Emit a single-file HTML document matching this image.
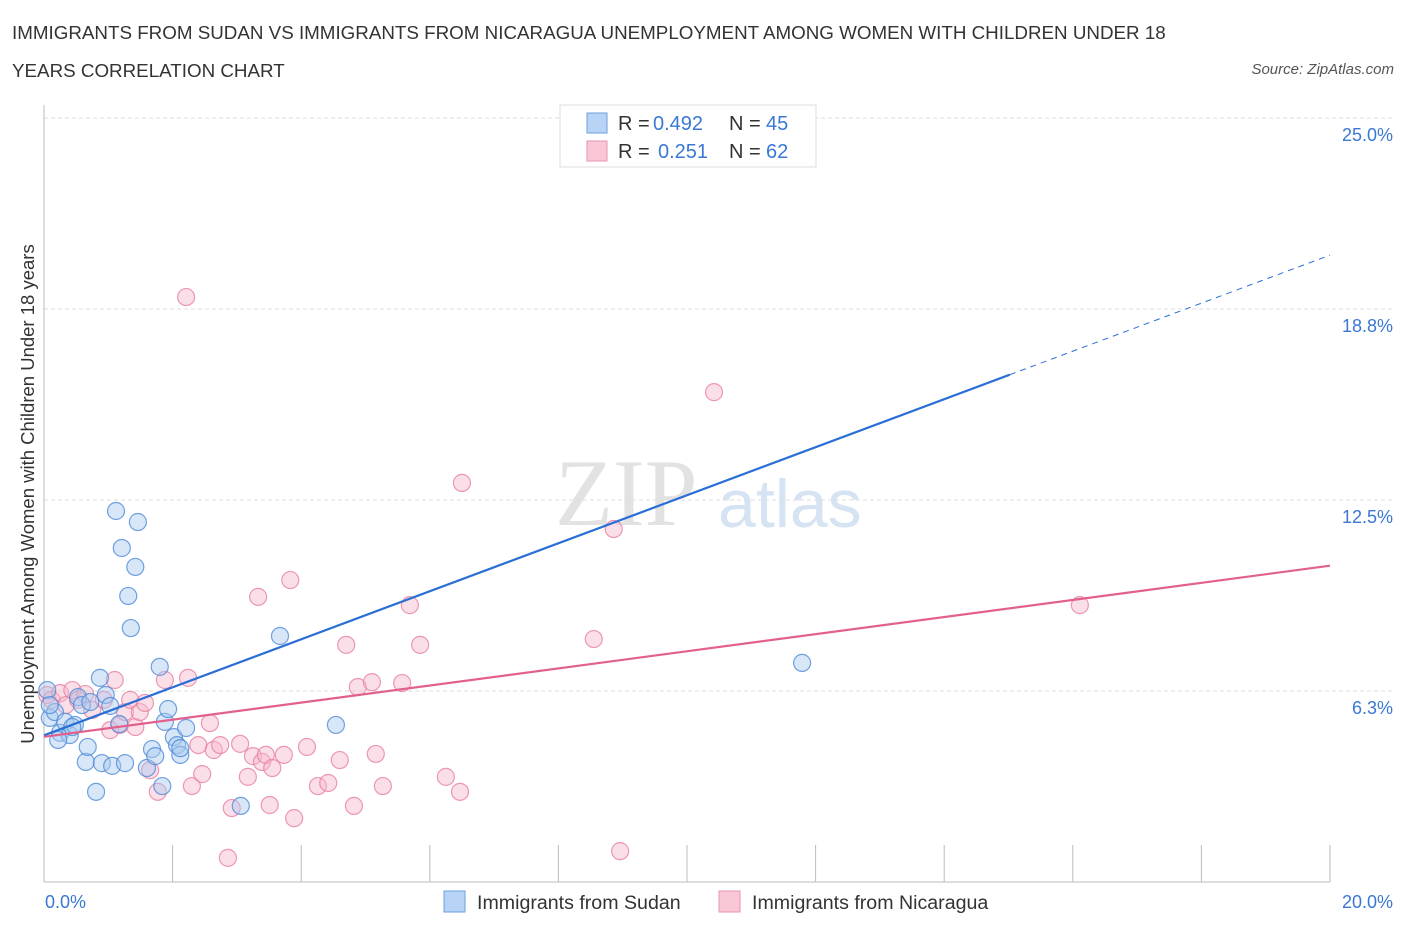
<!DOCTYPE html>
<html><head><meta charset="utf-8">
<style>
body{margin:0;background:#fff;font-family:"Liberation Sans",sans-serif;}
#wrap{position:relative;width:1406px;height:930px;overflow:hidden;}
.t{position:absolute;color:#333;font-size:18.8px;}
</style></head>
<body>
<div id="wrap">
<div class="t" style="left:12px;top:22px">IMMIGRANTS FROM SUDAN VS IMMIGRANTS FROM NICARAGUA UNEMPLOYMENT AMONG WOMEN WITH CHILDREN UNDER 18</div>
<div class="t" style="left:12px;top:60px">YEARS CORRELATION CHART</div>
<div class="t" style="right:12px;top:61px;font-size:15px;font-style:italic;color:#555">Source: ZipAtlas.com</div>
<svg id="chart" width="1406" height="930" style="position:absolute;left:0;top:0"></svg>
</div>
<script>
const xTickLabels=["0.0%","20.0%"];
const yTicks=[6.25,12.5,18.75,25];
const yTickLabels=["6.3%","12.5%","18.8%","25.0%"];
const sudanX=[.05,.09,.17,.25,.33,.40,.48,.53,.59,.65,.68,.81,.87,.90,.96,1.03,1.06,1.12,1.17,1.21,1.26,1.31,1.35,1.42,1.46,1.60,1.68,1.73,1.80,1.84,1.88,1.93,2.02,2.07,2.12,2.21,3.06,3.67,4.54,11.79,.09,.72,.44,2.12,.22];
const sudanY=[6.28,5.37,5.56,4.88,5.24,4.81,5.14,6.05,5.79,3.93,4.42,2.95,6.68,3.89,6.12,5.76,3.80,12.14,5.17,10.93,3.89,9.36,8.31,10.31,11.78,3.73,4.35,4.12,7.04,3.14,5.24,5.66,4.74,4.48,4.16,5.04,2.49,8.05,5.14,7.17,5.79,5.89,5.07,4.38,4.65];
const nicX=[.05,.12,.25,.34,.44,.53,.64,.75,.93,1.03,1.10,1.18,1.26,1.34,1.42,1.49,1.57,1.65,1.77,1.88,2.21,2.24,2.30,2.40,2.46,2.58,2.64,2.74,2.86,2.92,3.05,3.17,3.25,3.33,3.39,3.45,3.51,3.55,3.73,3.83,3.89,4.09,4.26,4.42,4.60,4.70,4.82,4.88,5.10,5.16,5.27,5.57,5.69,5.85,6.25,6.47,6.50,8.55,8.86,8.96,10.42,16.11];
const nicY=[6.12,5.96,6.18,5.79,6.28,5.96,6.15,5.63,5.96,4.97,6.61,5.14,5.56,5.96,5.07,5.56,5.86,3.66,2.95,6.61,19.14,6.68,3.14,4.48,3.53,5.20,4.32,4.48,0.79,2.42,4.52,3.44,4.12,9.33,3.93,4.16,2.52,3.73,4.16,9.88,2.09,4.42,3.14,3.24,3.99,7.76,2.49,6.38,6.54,4.19,3.14,6.51,9.06,7.76,3.44,2.95,13.06,7.95,11.55,1.01,16.03,9.06];
const sudanTrend=[4.8,0.7856];
const nicTrend=[4.75,0.28];

const X=v=>44+v/20*1286, Y=v=>882-v*30.56;
const svg=document.getElementById('chart');
const NS='http://www.w3.org/2000/svg';
function mk(tag,attrs,parent){const e=document.createElementNS(NS,tag);for(const k in attrs)e.setAttribute(k,attrs[k]);(parent||svg).appendChild(e);return e;}

let wm=mk('text',{x:555,y:525,'font-family':'Liberation Serif,serif','font-size':95,fill:'#e2e2e2'});wm.textContent='ZIP';


let wm2=mk('text',{x:718,y:527,'font-family':'Liberation Sans,sans-serif','font-size':68,fill:'#d6e3f3'});wm2.textContent='atlas';



yTicks.forEach((t,i)=>{
  const g=mk('line',{x1:44,x2:1392,y1:Y(t),y2:Y(t),stroke:'#ddd','stroke-dasharray':'4,3'});
  
  
  const l=mk('text',{x:1393,y:Y(t)+23,'text-anchor':'end','font-size':18,fill:'#3a78d4','font-family':'Liberation Sans,sans-serif'});
  l.textContent=yTickLabels[i];
  
  
});
let ax=mk('line',{x1:44,x2:44,y1:105,y2:882,stroke:'#bbb'});


let bx=mk('line',{x1:44,x2:1330,y1:882,y2:882,stroke:'#bbb'});


for(let i=0;i<=10;i++){const tk=mk('line',{x1:X(i*2),x2:X(i*2),y1:845,y2:882,stroke:'#bbb'});

}
let xl0=mk('text',{x:45,y:908,'font-size':18,fill:'#3a78d4'});xl0.textContent=xTickLabels[0];


let xl1=mk('text',{x:1393,y:908,'text-anchor':'end','font-size':18,fill:'#3a78d4'});xl1.textContent=xTickLabels[1];


let yt=mk('text',{x:0,y:0,'font-size':18.5,fill:'#333',transform:'translate(34,494) rotate(-90)','text-anchor':'middle'});
yt.textContent='Unemployment Among Women with Children Under 18 years';



function pts(xs,ys,fill,stroke,name){xs.forEach((x,i)=>{const c=mk('circle',{cx:X(x),cy:Y(ys[i]),r:8.5,fill:fill,'fill-opacity':0.45,stroke:stroke,'stroke-width':1.2,'stroke-opacity':0.8});

});}
pts(nicX,nicY,'#f7b8cb','#e87fa0','nicaragua-point');
pts(sudanX,sudanY,'#a9c9f0','#4f8ad8','sudan-point');

const bxEnd=15.02;
let tl=mk('line',{x1:X(0),y1:Y(sudanTrend[0]),x2:X(bxEnd),y2:Y(sudanTrend[0]+sudanTrend[1]*bxEnd),stroke:'#2a6fd6','stroke-width':2.2});


let td=mk('line',{x1:X(bxEnd),y1:Y(sudanTrend[0]+sudanTrend[1]*bxEnd),x2:X(20),y2:Y(sudanTrend[0]+sudanTrend[1]*20),stroke:'#2a6fd6','stroke-width':1,'stroke-dasharray':'6,5'});


let tp=mk('line',{x1:X(0),y1:Y(nicTrend[0]),x2:X(20),y2:Y(nicTrend[0]+nicTrend[1]*20),stroke:'#e2608c','stroke-width':2.2});



let lb=mk('rect',{x:560,y:105,width:256,height:62,fill:'#fff',stroke:'#ddd'});


[[0,'#b7d3f5','#6f9ede','0.492','45',653],[1,'#f9c7d6','#e995b0','0.251','62',658]].forEach(r=>{
  const y=123+r[0]*28;
  const s=mk('rect',{x:587,y:y-10,width:20,height:20,fill:r[1],stroke:r[2]});
  
  
  const a=mk('text',{x:618,y:y+7,'font-size':20,fill:'#333'});a.textContent='R =';
  
  
  const b=mk('text',{x:r[5],y:y+7,'font-size':20,fill:'#3a78d4'});b.textContent=r[3];
  
  
  const c=mk('text',{x:729,y:y+7,'font-size':20,fill:'#333'});c.textContent='N =';
  
  
  const d=mk('text',{x:766,y:y+7,'font-size':20,fill:'#3a78d4'});d.textContent=r[4];
  
  
});

[[444,'#b7d3f5','#6f9ede','Immigrants from Sudan','legend-sudan'],[719,'#f9c7d6','#e995b0','Immigrants from Nicaragua','legend-nicaragua']].forEach(r=>{
  const s=mk('rect',{x:r[0],y:891,width:21,height:21,fill:r[1],stroke:r[2]});
  
  
  const t=mk('text',{x:r[0]+33,y:909,'font-size':19.6,fill:'#333'});
  t.textContent=r[3];
  
  
});
</script>
</body></html>
